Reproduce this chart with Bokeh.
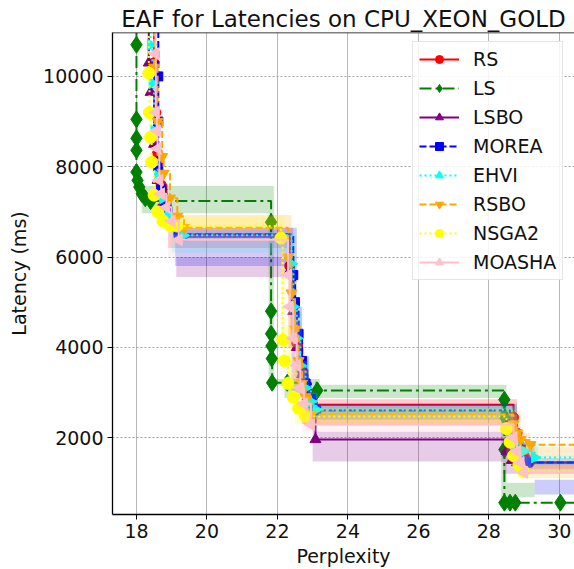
import numpy as np
from bokeh.plotting import figure
from bokeh.models import Range1d, Legend, LegendItem, Span, FixedTicker
from bokeh.embed import file_html
from bokeh.resources import INLINE

# ---------------- data ----------------
algorithms = ["RS", "LS", "LSBO", "MOREA", "EHVI", "RSBO", "NSGA2", "MOASHA"]

# median attainment fronts (perplexity, latency ms)
rs_x = [18.5, 18.55, 18.6, 18.7, 18.85, 19.0, 19.2, 22.35, 22.45, 22.55, 22.7, 22.85, 23.0, 28.7, 28.8, 28.9, 29.0, 29.15]
rs_y = [10300, 9200, 8300, 7600, 7100, 6800, 6500, 5800, 4900, 4100, 3500, 3000, 2730, 2450, 2100, 1800, 1600, 1450]

ls_x = [18.0, 18.0, 18.0, 18.0, 18.0, 18.03, 18.08, 18.15, 18.25, 18.4, 21.82, 21.82, 21.82, 21.83, 21.84, 21.85, 22.28, 23.13, 28.44, 28.44, 28.44, 28.44, 28.6, 28.75, 30.03]
ls_y = [10700, 9050, 8630, 8365, 7880, 7700, 7550, 7400, 7300, 7240, 6770, 4800, 4300, 4030, 3750, 3215, 3215, 3045, 2840, 2470, 1735, 560, 560, 560, 560]

lsbo_x = [18.35, 18.4, 18.5, 18.6, 18.75, 18.9, 19.1, 19.3, 22.35, 22.45, 22.55, 22.7, 22.85, 22.95, 23.08, 28.5, 28.65, 28.8]
lsbo_y = [10300, 9650, 8500, 7700, 7200, 6900, 6700, 6450, 5700, 4800, 4000, 3400, 2900, 2450, 1960, 1700, 1500, 1450]

morea_x = [18.62, 18.62, 18.62, 18.62, 18.7, 18.85, 19.0, 19.2, 22.45, 22.5, 22.6, 22.7, 22.8, 22.95, 23.1, 28.6, 28.75, 28.9, 29.1]
morea_y = [11200, 10000, 9000, 8000, 7500, 7100, 6800, 6500, 5600, 5000, 4300, 3700, 3200, 2850, 2600, 2300, 1900, 1600, 1450]

ehvi_x = [18.4, 18.45, 18.5, 18.6, 18.75, 18.9, 19.1, 19.33, 22.4, 22.45, 22.55, 22.65, 22.8, 22.95, 23.1, 28.65, 28.8, 29.0, 29.3]
ehvi_y = [10700, 9850, 8800, 7800, 7300, 6950, 6700, 6480, 5850, 4900, 4200, 3600, 3100, 2800, 2620, 2200, 1900, 1700, 1560]

rsbo_x = [18.45, 18.5, 18.6, 18.73, 18.77, 18.95, 19.16, 19.35, 22.3, 22.4, 22.5, 22.6, 22.7, 22.8, 22.95, 28.7, 28.8, 28.9, 29.18]
rsbo_y = [11200, 10200, 9000, 8220, 7850, 7300, 6900, 6650, 6000, 5200, 4400, 3700, 3200, 2900, 2510, 2300, 2100, 1950, 1845]

nsga2_x = [18.35, 18.37, 18.4, 18.43, 18.5, 18.6, 18.75, 18.95, 19.15, 22.1, 22.15, 22.2, 22.3, 22.45, 22.6, 22.8, 28.5, 28.6, 28.7, 28.85, 28.98]
nsga2_y = [10070, 9200, 8650, 8100, 7370, 7000, 6800, 6700, 6685, 6420, 4165, 3700, 3200, 2900, 2650, 2470, 2200, 1900, 1600, 1400, 1250]

moasha_x = [18.54, 18.55, 18.58, 18.6, 18.65, 18.7, 18.85, 19.0, 19.2, 22.3, 22.35, 22.45, 22.55, 22.65, 22.75, 22.95, 28.7, 28.8, 28.9, 29.0]
moasha_y = [10500, 9200, 8800, 8400, 7700, 7400, 7100, 6800, 6380, 5600, 4900, 4200, 3600, 3100, 2750, 2290, 2000, 1700, 1450, 1230]

# attainment bands: best and worst fronts
rs_best_x = [18.9, 22.35, 22.55, 22.75, 28.6, 29.1]
rs_best_y = [6200, 4000, 3200, 2300, 1600, 1300]
rs_worst_x = [18.9, 22.45, 22.65, 22.85, 23.05, 28.8, 29.3]
rs_worst_y = [6650, 4600, 3700, 3000, 2850, 1900, 1550]

ls_best_x = [18.15, 21.75, 22.2, 28.35]
ls_best_y = [6970, 3150, 2880, 680]
ls_worst_x = [18.15, 21.9, 23.2, 28.5, 29.3]
ls_worst_y = [7575, 3300, 3170, 1000, 680]

lsbo_best_x = [19.13, 22.4, 22.7, 23.0, 28.4]
lsbo_best_y = [5560, 3000, 2300, 1470, 1200]
lsbo_worst_x = [19.13, 22.5, 22.8, 23.1, 28.6, 29.0]
lsbo_worst_y = [6000, 3600, 2500, 2130, 1600, 1450]

morea_best_x = [19.1, 22.45, 22.6, 22.8, 28.5, 29.3]
morea_best_y = [5800, 4300, 3300, 2400, 1500, 740]
morea_worst_x = [19.1, 22.55, 22.7, 22.9, 23.15, 28.8, 29.3]
morea_worst_y = [6650, 4900, 3800, 3000, 2750, 1600, 1070]

ehvi_best_x = [19.0, 22.4, 22.6, 22.85, 28.6, 29.1]
ehvi_best_y = [6100, 4200, 3300, 2400, 1700, 1400]
ehvi_worst_x = [19.0, 22.5, 22.7, 22.9, 23.15, 28.8, 29.4]
ehvi_worst_y = [6550, 4800, 3700, 3000, 2700, 1900, 1600]

rsbo_best_x = [19.0, 22.3, 22.5, 22.75, 28.7, 29.18]
rsbo_best_y = [6660, 4000, 3100, 2300, 2000, 1580]
rsbo_worst_x = [19.0, 22.4, 22.6, 22.8, 23.0, 28.9, 29.18]
rsbo_worst_y = [6930, 4600, 3600, 2900, 2600, 2100, 1800]

nsga2_best_x = [18.9, 22.1, 22.3, 22.5, 28.5, 28.9]
nsga2_best_y = [6600, 4000, 3000, 2300, 1500, 1100]
nsga2_worst_x = [18.9, 22.2, 22.4, 22.6, 22.9, 28.7, 29.1]
nsga2_worst_y = [6900, 4500, 3500, 2900, 2650, 1800, 1400]

moasha_best_x = [18.9, 22.3, 22.5, 22.7, 28.6, 29.0]
moasha_best_y = [6000, 4000, 3000, 2130, 1500, 1100]
moasha_worst_x = [18.9, 22.4, 22.6, 22.8, 23.0, 28.8, 29.2]
moasha_worst_y = [6500, 4600, 3500, 2800, 2500, 1800, 1350]

x_ticks = [18, 20, 22, 24, 26, 28, 30]
y_ticks = [2000, 4000, 6000, 8000, 10000]

# ---------------- styles ----------------
series = {
    "RS":     dict(x=rs_x, y=rs_y, bx=rs_best_x, by=rs_best_y, wx=rs_worst_x, wy=rs_worst_y,
                   color="#ff0000", dash="solid", marker="circle", size=10, angle=0.0),
    "LS":     dict(x=ls_x, y=ls_y, bx=ls_best_x, by=ls_best_y, wx=ls_worst_x, wy=ls_worst_y,
                   color="#008000", dash="12 4 3 4", marker="diamond", size=17, angle=0.0),
    "LSBO":   dict(x=lsbo_x, y=lsbo_y, bx=lsbo_best_x, by=lsbo_best_y, wx=lsbo_worst_x, wy=lsbo_worst_y,
                   color="#800080", dash="solid", marker="triangle", size=11, angle=0.0),
    "MOREA":  dict(x=morea_x, y=morea_y, bx=morea_best_x, by=morea_best_y, wx=morea_worst_x, wy=morea_worst_y,
                   color="#0000ff", dash="7 3", marker="square", size=9, angle=0.0),
    "EHVI":   dict(x=ehvi_x, y=ehvi_y, bx=ehvi_best_x, by=ehvi_best_y, wx=ehvi_worst_x, wy=ehvi_worst_y,
                   color="#00ffff", dash="2 3", marker="triangle", size=11, angle=-np.pi / 2),
    "RSBO":   dict(x=rsbo_x, y=rsbo_y, bx=rsbo_best_x, by=rsbo_best_y, wx=rsbo_worst_x, wy=rsbo_worst_y,
                   color="#ffa500", dash="7 3", marker="inverted_triangle", size=11, angle=0.0),
    "NSGA2":  dict(x=nsga2_x, y=nsga2_y, bx=nsga2_best_x, by=nsga2_best_y, wx=nsga2_worst_x, wy=nsga2_worst_y,
                   color="#ffff00", dash="2 3", marker="circle", size=12, angle=0.0),
    "MOASHA": dict(x=moasha_x, y=moasha_y, bx=moasha_best_x, by=moasha_best_y, wx=moasha_worst_x, wy=moasha_worst_y,
                   color="#ffc0cb", dash="solid", marker="triangle", size=12, angle=np.pi / 2),
}

X_START, X_END = 17.32, 30.43
Y_START, Y_END = 298, 10972
TOP, RIGHT = 13000, 32.0


def staircase(xs, ys):
    px, py = [xs[0]], [TOP]
    for i in range(len(xs)):
        px.append(xs[i]); py.append(ys[i])
        nx = xs[i + 1] if i + 1 < len(xs) else RIGHT
        px.append(nx); py.append(ys[i])
    return px, py


FONT = "DejaVu Sans"

p = figure(width=574, height=569, output_backend="svg", toolbar_location=None,
           x_range=Range1d(X_START, X_END), y_range=Range1d(Y_START, Y_END),
           min_border_left=112, min_border_right=0, min_border_top=32, min_border_bottom=54)

p.title.text = "EAF for Latencies on CPU_XEON_GOLD"
p.title.text_font = FONT
p.title.text_font_size = "23px"
p.title.text_font_style = "normal"
p.title.align = "center"
p.title.standoff = 2
p.title.text_color = "#111111"

p.outline_line_color = None
p.add_layout(Span(location=Y_END, dimension="width", line_color="black", line_width=1.3))

p.xaxis.ticker = FixedTicker(ticks=x_ticks)
p.yaxis.ticker = FixedTicker(ticks=y_ticks)
for ax in (p.xaxis[0], p.yaxis[0]):
    ax.major_label_text_font = FONT
    ax.major_label_text_font_size = "19px"
    ax.major_label_text_color = "#111111"
    ax.axis_label_text_font = FONT
    ax.axis_label_text_font_size = "19px"
    ax.axis_label_text_font_style = "normal"
    ax.axis_label_text_color = "#111111"
    ax.axis_line_color = "black"
    ax.axis_line_width = 1.3
    ax.major_tick_out = 5
    ax.major_tick_in = 0
    ax.minor_tick_out = 0
    ax.minor_tick_in = 0
    ax.major_label_standoff = 4
p.xaxis.axis_label = "Perplexity"
p.yaxis.axis_label = "Latency (ms)"
p.xaxis.axis_label_standoff = 4
p.yaxis.axis_label_standoff = 10

p.xgrid.grid_line_color = "#b8b8b8"
p.xgrid.grid_line_width = 1
p.ygrid.grid_line_color = "#a0a0a0"
p.ygrid.grid_line_dash = "2 2"
p.ygrid.grid_line_width = 1

items = []
for name in algorithms:
    s = series[name]
    bx, by = staircase(s["bx"], s["by"])
    wx, wy = staircase(s["wx"], s["wy"])
    p.patch(bx + wx[::-1], by + wy[::-1], fill_color=s["color"], fill_alpha=0.2, line_color=None)
    lx, ly = staircase(s["x"], s["y"])
    lr = p.line(lx, ly, line_color=s["color"], line_width=2, line_dash=s["dash"])
    mr = p.scatter(s["x"], s["y"], marker=s["marker"], size=s["size"], angle=s["angle"],
                   fill_color=s["color"], line_color=s["color"])
    items.append(LegendItem(label=name, renderers=[lr, mr]))

legend = Legend(items=items, location=(300, 234))
legend.label_text_font = FONT
legend.label_text_font_size = "19px"
legend.label_text_color = "#111111"
legend.glyph_width = 40
legend.glyph_height = 20
legend.label_height = 20
legend.label_standoff = 14
legend.spacing = 7
legend.padding = 6
legend.margin = 0
legend.border_line_color = "#cccccc"
legend.border_line_width = 1
legend.background_fill_alpha = 0.85
p.add_layout(legend)

open("out.html", "w").write(file_html(p, INLINE))
